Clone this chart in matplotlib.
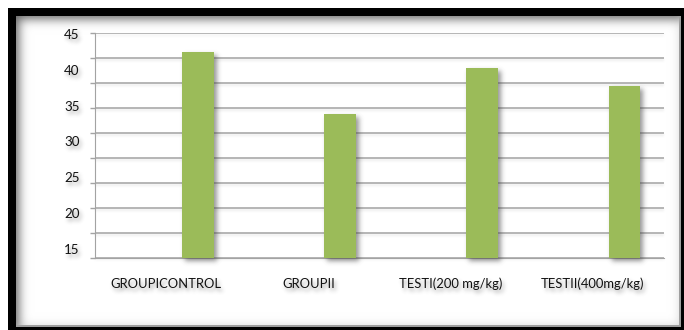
import numpy as np
import matplotlib
matplotlib.use("Agg")
import matplotlib.pyplot as plt

plt.rcParams['font.family'] = ['Lato', 'DejaVu Sans']

# values per group
groups = ['GROUPICONTROL', 'GROUPII', 'TESTI(200 mg/kg)', 'TESTII(400mg/kg)']
values = [42.5, 34.2, 40.4, 38.0]
y_labels = ['45', '40', '35', '30', '25', '20', '15']

W, H = 684, 330
BAR_GREEN = '#9bbb59'
GRID_GREY = '#a3a3a3'
TEXT = '#111111'


def blur(a, sigma):
    r = int(3 * sigma) + 1
    k = np.exp(-0.5 * (np.arange(-r, r + 1) / sigma) ** 2)
    k /= k.sum()
    p = np.pad(a, ((r, r), (0, 0)))
    out = np.zeros_like(a)
    for i, w in enumerate(k):
        out += w * p[i:i + a.shape[0]]
    p = np.pad(out, ((0, 0), (r, r)))
    out = np.zeros_like(a)
    for i, w in enumerate(k):
        out += w * p[:, i:i + a.shape[1]]
    return out


class SoftShadow:
    """agg filter: blurred grey copy of the artist drawn under it."""

    def __init__(self, dx, dy, sigma, alpha, grey=0.25):
        self.dx, self.dy, self.sigma = dx, dy, sigma
        self.alpha, self.grey = alpha, grey

    def __call__(self, im, dpi):
        pad = int(3 * self.sigma) + max(abs(self.dx), abs(self.dy)) + 2
        src = np.pad(im, ((pad, pad), (pad, pad), (0, 0)))
        a_s = np.roll(src[..., 3], (self.dy, self.dx), axis=(0, 1))
        a_s = blur(a_s, self.sigma) * self.alpha
        a_o = src[..., 3]
        out_a = a_o + a_s * (1 - a_o)
        safe = np.where(out_a > 0, out_a, 1)
        out = np.empty_like(src)
        for c in range(3):
            out[..., c] = (src[..., c] * a_o + self.grey * a_s * (1 - a_o)) / safe
        out[..., 3] = out_a
        return np.clip(out, 0, 1), -pad, -pad


# frame: black border, grey inner shadow along the top and left edges
bg = np.ones((H, W, 3))
bg[8:, 8:] = 0.0
inner = np.zeros((H, W))
inner[16:325, 16:679] = 1.0
outside = 1.0 - inner
outside = np.roll(outside, (3, 3), axis=(0, 1))
shade = 1.0 - 0.6 * blur(outside, 5.0)
bg[16:325, 16:679] = shade[16:325, 16:679, None]
bg[325:327, 16:681] = 0.62
bg[16:327, 679:681] = 0.62

fig = plt.figure(figsize=(W / 100, H / 100), dpi=100)
fig.figimage(bg, xo=0, yo=0, origin='upper', zorder=-5)

ax = fig.add_axes([95 / W, 1 - 258.3 / H, 569 / W, 225 / H])
ax.set_facecolor('none')
ax.set_xlim(-0.5, 3.5)
ax.set_ylim(15, 45)

# horizontal grid, nine equal steps between the axis limits
grid_vals = np.linspace(15, 45, 10)
grid = ax.hlines(grid_vals, -0.5, 3.5, colors=GRID_GREY, linewidth=1.1, zorder=1)
grid.set_agg_filter(SoftShadow(0, 2, 1.2, 0.25, grey=0.6))

# single visible series sits in the third slot of each group
bw = 0.223
x = np.arange(len(groups))
bars = ax.bar(x + bw, values, width=bw, color=BAR_GREEN, zorder=3)
for b in bars:
    b.set_agg_filter(SoftShadow(3, 3, 2.5, 0.55))

for side in ['top', 'right']:
    ax.spines[side].set_visible(False)
ax.spines['left'].set_color(GRID_GREY)
ax.spines['bottom'].set_color(GRID_GREY)

ax.set_xticks(x)
ax.set_xticklabels(groups, fontsize=9.4, color=TEXT)
ax.tick_params(axis='x', length=0, pad=14)

ax.set_yticks(np.linspace(44.85, 16.3, len(y_labels)))
ax.set_yticklabels(y_labels, fontsize=9.6, color=TEXT)
ax.tick_params(axis='y', which='major', length=0, pad=11)
ax.set_yticks(grid_vals, minor=True)
ax.tick_params(axis='y', which='minor', length=3.6, color=GRID_GREY, width=1)

for lab in ax.get_xticklabels() + ax.get_yticklabels():
    lab.set_agg_filter(SoftShadow(2, 3, 2.0, 0.5))

fig.savefig('out.png', dpi=100)
